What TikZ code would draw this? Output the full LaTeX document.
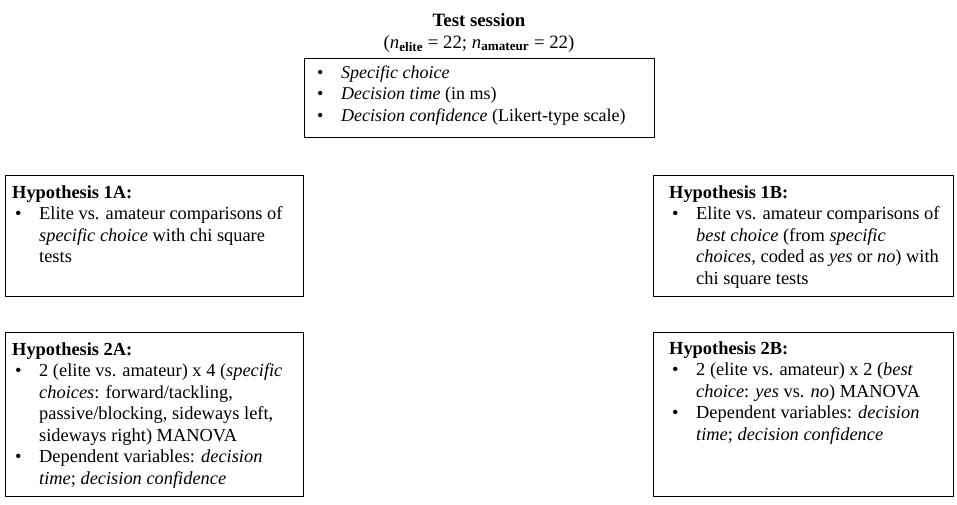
\documentclass[tikz,border=0pt]{standalone}
\usepackage{fontspec}
\setmainfont{Liberation Serif}
\newcommand\bitem[1]{\par\hangindent=27pt\hangafter=1\noindent\makebox[27pt][l]{\hspace{3pt}\textbullet}#1}
\newcommand\bodyfont{\fontsize{18.4}{21.5}\selectfont}
\newcommand\topfont{\fontsize{18}{21.7}\selectfont}
\newcommand\titlefont{\fontsize{18.8}{22}\selectfont}
\begin{document}
\begin{tikzpicture}[x=1pt,y=1pt,
  box/.style 2 args={draw, line width=1.2pt, anchor=north west, inner sep=0pt,
    minimum width=#1, minimum height=#2},
  txt/.style={anchor=base west, inner sep=0pt, font=\bodyfont}]
\useasboundingbox (0,0) rectangle (957,-504);
% title
\node[anchor=base, inner sep=0pt, font=\titlefont\bfseries] (title) at (479,-26) {Test session};
\node[anchor=base, inner sep=0pt, font=\titlefont] (sub) at (479,-48)
  {(\textit{n}\textsubscript{\textbf{elite}} = 22; \textit{n}\textsubscript{\textbf{amateur}} = 22)};
% boxes
\node[box={350}{79}] (btop) at (304,-58) {};
\node[box={298}{121}] (b1a) at (5,-175) {};
\node[box={300}{121}] (b1b) at (653,-175) {};
\node[box={298}{164}] (b2a) at (5,-332) {};
\node[box={300}{164}] (b2b) at (653,-332) {};
% texts
\node[txt] (ttop) at ([xshift=10pt,yshift=-20pt]btop.north west) {\parbox[t]{330pt}{\topfont\raggedright
  \bitem{\textit{Specific choice}}
  \bitem{\textit{Decision time} (in ms)}
  \bitem{\textit{Decision confidence} (Likert-type scale)}}};
\node[txt] (t1a) at ([xshift=7pt,yshift=-23pt]b1a.north west) {\parbox[t]{288pt}{\bodyfont\raggedright
  \noindent\textbf{Hypothesis 1A:}
  \bitem{Elite vs. amateur comparisons of\newline \textit{specific choice} with chi square\newline tests}}};
\node[txt] (t1b) at ([xshift=16pt,yshift=-23pt]b1b.north west) {\parbox[t]{282pt}{\bodyfont\raggedright
  \noindent\textbf{Hypothesis 1B:}
  \bitem{Elite vs. amateur comparisons of\newline \textit{best choice} (from \textit{specific}\newline \textit{choices,} coded as \textit{yes} or \textit{no}) with\newline chi square tests}}};
\node[txt] (t2a) at ([xshift=7pt,yshift=-23pt]b2a.north west) {\parbox[t]{288pt}{\bodyfont\raggedright
  \noindent\textbf{Hypothesis 2A:}
  \bitem{2 (elite vs. amateur) x 4 (\textit{specific}\newline \textit{choices}: forward/tackling,\newline passive/blocking, sideways left,\newline sideways right) MANOVA}
  \bitem{Dependent variables: \textit{decision}\newline \textit{time}; \textit{decision confidence}}}};
\node[txt] (t2b) at ([xshift=16pt,yshift=-22pt]b2b.north west) {\parbox[t]{282pt}{\bodyfont\raggedright
  \noindent\textbf{Hypothesis 2B:}
  \bitem{2 (elite vs. amateur) x 2 (\textit{best}\newline \textit{choice}: \textit{yes} vs. \textit{no}) MANOVA}
  \bitem{Dependent variables: \textit{decision}\newline \textit{time}; \textit{decision confidence}}}};
\end{tikzpicture}
\end{document}
